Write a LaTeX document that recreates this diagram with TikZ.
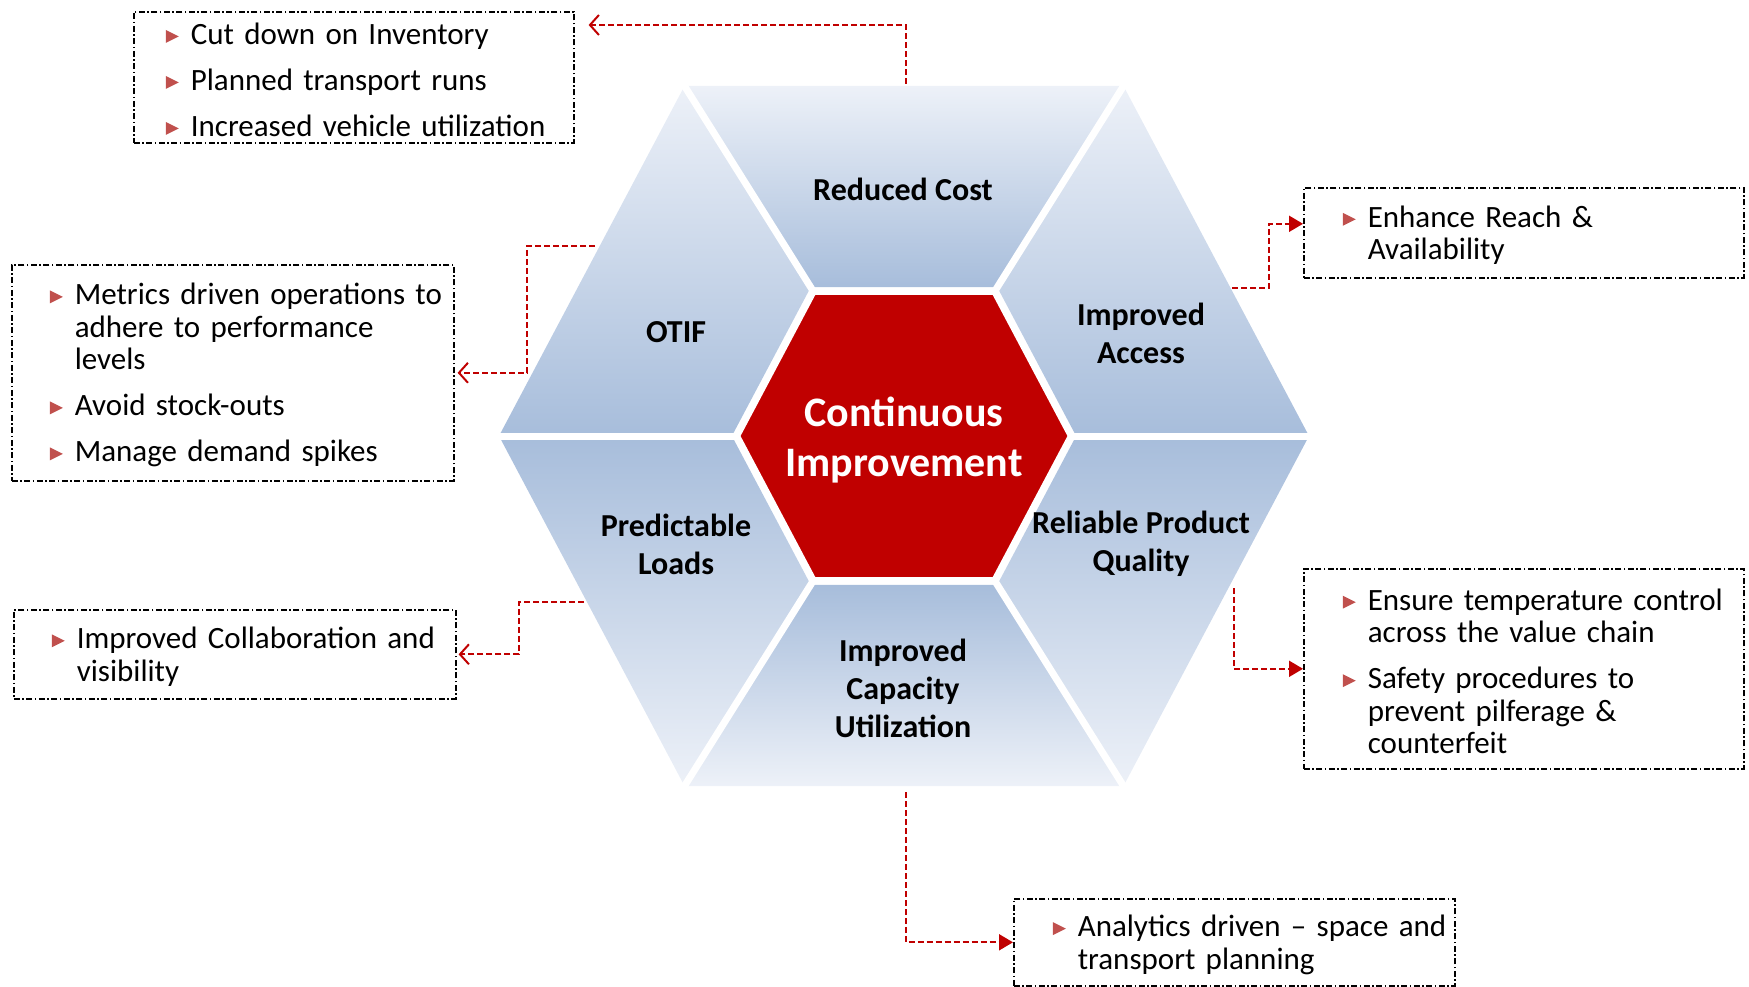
\documentclass[tikz,border=0pt]{standalone}
\usepackage{fontspec}
\setmainfont{Carlito}
\usetikzlibrary{arrows.meta,calc}
\definecolor{cired}{HTML}{C00000}
\definecolor{bulred}{HTML}{C0504D}
\definecolor{hexlight}{HTML}{EDF1F8}
\definecolor{hexdark}{HTML}{A7BDDB}
\newcommand\bul{\tikz[baseline=0pt,x=1pt,y=1pt]\fill[bulred] (0,1.5)--(0,14.5)--(13,8)--cycle;}
\newcommand\bitem[1]{\par\noindent\hangindent=25pt\hangafter=1\makebox[25pt][l]{\bul}\ignorespaces#1}
\newcommand\bgap{\par\vskip13.5pt}
\newcommand\bstart[1]{\leftskip=#1\relax\kern-6pt\relax}
\newcommand\bend{\par\hrule height 0pt depth 6pt width 0pt\relax}
\tikzset{
  infobox/.style={draw=black, line width=1.6pt, dash pattern=on 6pt off 2.5pt on 1.5pt off 2.5pt,
    inner sep=0pt, anchor=north west, align=left,
    font=\fontsize{31}{32.5}\selectfont},
  seglabel/.style={font=\bfseries\fontsize{32}{38}\selectfont, align=center, text=black},
  centerlabel/.style={font=\bfseries\fontsize{42}{50}\selectfont, align=center, text=white},
  conn/.style={draw=cired, line width=2pt, dash pattern=on 6pt off 3pt},
  openarr/.style={-{Straight Barb[length=9pt,width=20pt,line width=2pt]}},
  fillarr/.style={-{Triangle[length=14pt,width=16pt]}},
}
\begin{document}
\begin{tikzpicture}[x=1pt,y=-1pt]
\useasboundingbox (0,0) rectangle (1749,987);
% hexagon geometry
\coordinate (c) at (904,436);
\coordinate (OR) at (1309,436);
\coordinate (OTR) at (1123.5,86);
\coordinate (OTL) at (684.5,86);
\coordinate (OL) at (499,436);
\coordinate (OBL) at (684.5,786);
\coordinate (OBR) at (1123.5,786);
\foreach \n in {OR,OTR,OTL,OL,OBL,OBR}{
  \coordinate (I\n) at ($(c)!0.425!(\n)$);
  \coordinate (R\n) at ($(c)!0.412!(\n)$);
}
% six segments
\shade[top color=hexlight, bottom color=hexdark] (OTL)--(OTR)--(IOTR)--(IOTL)--cycle;
\shade[top color=hexlight, bottom color=hexdark] (OTR)--(OR)--(IOR)--(IOTR)--cycle;
\shade[top color=hexlight, bottom color=hexdark] (OTL)--(IOTL)--(IOL)--(OL)--cycle;
\shade[top color=hexdark, bottom color=hexlight] (OR)--(OBR)--(IOBR)--(IOR)--cycle;
\shade[top color=hexdark, bottom color=hexlight] (IOBL)--(IOBR)--(OBR)--(OBL)--cycle;
\shade[top color=hexdark, bottom color=hexlight] (OL)--(IOL)--(IOBL)--(OBL)--cycle;
\foreach \n in {OR,OTR,OTL,OL,OBL,OBR}{
  \draw[white, line width=7pt] ($(c)!0.40!(\n)$) -- ($(c)!1.03!(\n)$);
}
\fill[cired, draw=white, line width=6pt] (ROR)--(ROTR)--(ROTL)--(ROL)--(ROBL)--(ROBR)--cycle;
% labels
\node[centerlabel] (ci) at (904,440) {Continuous\\Improvement};
\node[seglabel] (rc) at (903,189) {Reduced Cost};
\node[seglabel] (otif) at (676,332) {OTIF};
\node[seglabel] (ia) at (1141,333) {Improved\\Access};
\node[seglabel] (pl) at (676,544) {Predictable\\Loads};
\node[seglabel] (rq) at (1141,544) {Reliable Product\\Quality};
\node[seglabel] (ic) at (903,688) {Improved\\Capacity\\Utilization};
% boxes
\node[infobox, minimum width=440pt, text width=440pt, minimum height=131pt] (b1) at (133,11)
  {\bstart{32pt}\bitem{Cut down on Inventory}\bgap\bitem{Planned transport runs}\bgap\bitem{Increased vehicle utilization}\bend};
\node[infobox, minimum width=442pt, text width=442pt, minimum height=216pt] (b2) at (11,264)
  {\bstart{38pt}\bitem{Metrics driven operations to\newline adhere to performance\newline levels}\bgap\bitem{Avoid stock-outs}\bgap\bitem{Manage demand spikes}\bend};
\node[infobox, minimum width=442pt, text width=442pt, minimum height=89pt] (b3) at (13,609)
  {\bstart{38pt}\bitem{Improved Collaboration and\newline visibility}\bend};
\node[infobox, minimum width=440pt, text width=440pt, minimum height=90pt] (b4) at (1303,187)
  {\bstart{39pt}\bitem{Enhance Reach \&\newline Availability}\bend};
\node[infobox, minimum width=440pt, text width=440pt, minimum height=200pt] (b5) at (1303,568)
  {\bstart{39pt}\bitem{Ensure temperature control\newline across the value chain}\bgap\bitem{Safety procedures to\newline prevent pilferage \&\newline counterfeit}\bend};
\node[infobox, minimum width=441pt, text width=441pt, minimum height=87pt] (b6) at (1013,898)
  {\bstart{39pt}\bitem{Analytics driven – space and\newline transport planning}\bend};
% connectors
\coordinate (s1) at (906,84);  \coordinate (k1) at (906,25);
\draw[conn, openarr, shorten >=14pt] (s1) -- (k1) -- (k1 -| b1.east);
\coordinate (s2) at (595,246); \coordinate (k2) at (527,246);
\draw[conn, openarr, shorten >=3pt] (s2) -- (k2) |- (b2.east);
\coordinate (s3) at (584,602); \coordinate (k3) at (519,602);
\draw[conn, openarr, shorten >=2pt] (s3) -- (k3) |- (b3.east);
\coordinate (s4) at (1232,288); \coordinate (k4) at (1269,288);
\draw[conn, fillarr] (s4) -- (k4) |- ([yshift=9pt]b4.west);
\coordinate (s5) at (1234,588);
\draw[conn, fillarr] (s5) |- (b5.west);
\coordinate (s6) at (906,792);
\draw[conn, fillarr] (s6) |- (b6.west);
\end{tikzpicture}
\end{document}
